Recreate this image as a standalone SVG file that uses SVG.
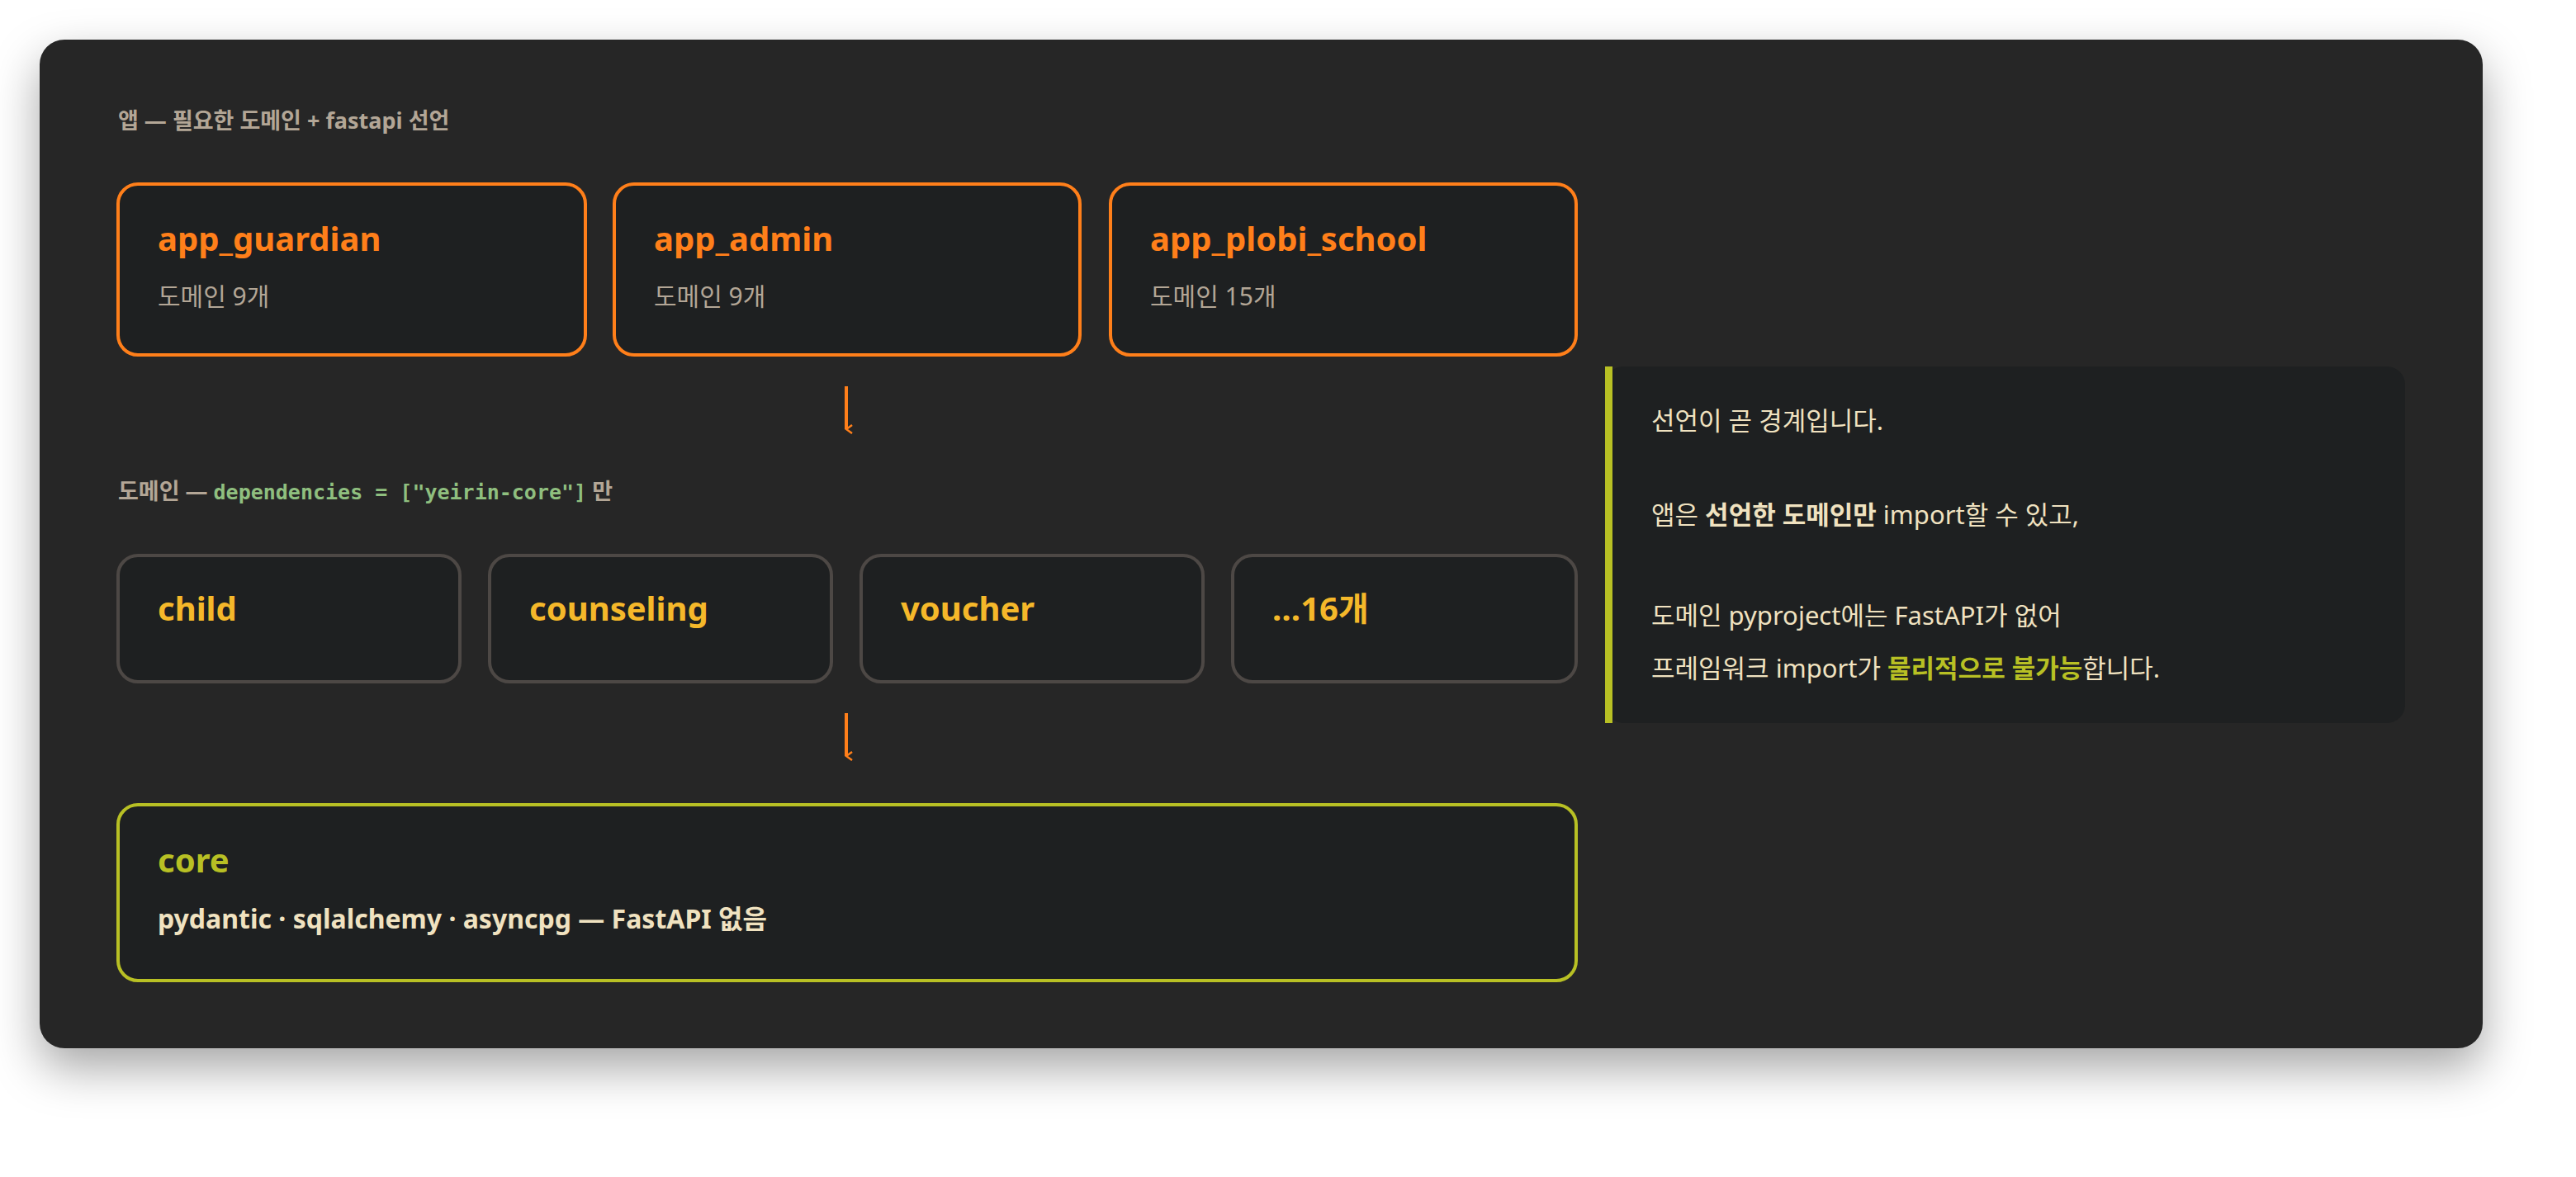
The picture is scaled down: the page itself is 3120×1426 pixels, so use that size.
<svg xmlns="http://www.w3.org/2000/svg" width="3120" height="1426" viewBox="0 0 3120 1426">
<defs>
<filter id="sh" x="-10%" y="-10%" width="120%" height="130%"><feDropShadow dx="0" dy="24" stdDeviation="28" flood-color="#000" flood-opacity="0.35"/></filter>
<marker id="ah" viewBox="0 0 12 12" refX="6" refY="10" markerWidth="12" markerHeight="12" markerUnits="userSpaceOnUse" orient="auto"><path d="M1,3 L6,10 L11,3" fill="none" stroke="#ff7f1a" stroke-width="2.5"/></marker>
<style>
text{font-family:"Noto Sans","Noto Sans CJK KR",sans-serif}
.lbl{font-size:27px;font-weight:700;fill:#b3a696}
.mono{font-family:"DejaVu Sans Mono",monospace;fill:#8fbf7f;font-size:25px;font-weight:700}
.app{fill:#1e2021;stroke:#ff7f1a;stroke-width:4}
.dom{fill:#1e2021;stroke:#4d4845;stroke-width:4}
.t1{font-size:40px;font-weight:700}
.sub{font-size:30px;fill:#b3a696}
.p{font-size:31px;fill:#f0e2c0}
</style>
</defs>
<rect width="3120" height="1426" fill="#ffffff"/>
<rect x="48" y="48" width="2959" height="1222" rx="30" fill="#282828" filter="url(#sh)"/>
<text class="lbl" x="143" y="156">앱 — 필요한 도메인 + fastapi 선언</text>
<g id="app_guardian"><rect class="app" x="143" y="223" width="566" height="207" rx="24"/><text class="t1" x="191" y="304" fill="#ff7f1a">app_guardian</text><text class="sub" x="191" y="370">도메인 9개</text></g>
<g id="app_admin"><rect class="app" x="744" y="223" width="564" height="207" rx="24"/><text class="t1" x="792" y="304" fill="#ff7f1a">app_admin</text><text class="sub" x="792" y="370">도메인 9개</text></g>
<g id="app_plobi_school"><rect class="app" x="1345" y="223" width="564" height="207" rx="24"/><text class="t1" x="1393" y="304" fill="#ff7f1a">app_plobi_school</text><text class="sub" x="1393" y="370">도메인 15개</text></g>
<text class="lbl" x="143" y="605">도메인 — <tspan class="mono">dependencies = ["yeirin-core"]</tspan> 만</text>
<g id="child"><rect class="dom" x="143" y="673" width="414" height="153" rx="24"/><text class="t1" x="191" y="752" fill="#f5b82a">child</text></g>
<g id="counseling"><rect class="dom" x="593" y="673" width="414" height="153" rx="24"/><text class="t1" x="641" y="752" fill="#f5b82a">counseling</text></g>
<g id="voucher"><rect class="dom" x="1043" y="673" width="414" height="153" rx="24"/><text class="t1" x="1091" y="752" fill="#f5b82a">voucher</text></g>
<g id="more"><rect class="dom" x="1493" y="673" width="416" height="153" rx="24"/><text class="t1" x="1541" y="752" fill="#f5b82a">…16개</text></g>
<g id="core"><rect x="143" y="975" width="1766" height="213" rx="24" fill="#1e2021" stroke="#b8c024" stroke-width="4"/><text class="t1" x="191" y="1057" fill="#b8c024">core</text><text x="191" y="1125" font-size="32" font-weight="700" fill="#f0e2c0">pydantic · sqlalchemy · asyncpg — FastAPI 없음</text></g>
<g id="connectors" stroke="#ff7f1a" stroke-width="4" fill="none">
<line x1="1025" y1="468" x2="1025" y2="520" marker-end="url(#ah)"/>
<line x1="1025" y1="864" x2="1025" y2="916" marker-end="url(#ah)"/>
</g>
<g id="note">
<rect x="1944" y="444" width="969" height="432" rx="22" fill="#1e2021"/>
<rect x="1944" y="444" width="9" height="432" fill="#b8c024"/>
<text class="p" x="2000" y="521">선언이 곧 경계입니다.</text>
<text class="p" x="2000" y="635">앱은 <tspan font-weight="700">선언한 도메인만</tspan> import할 수 있고,</text>
<text class="p" x="2000" y="757">도메인 pyproject에는 FastAPI가 없어</text>
<text class="p" x="2000" y="821">프레임워크 import가 <tspan font-weight="700" fill="#b8c024">물리적으로 불가능</tspan>합니다.</text>
</g>
</svg>
